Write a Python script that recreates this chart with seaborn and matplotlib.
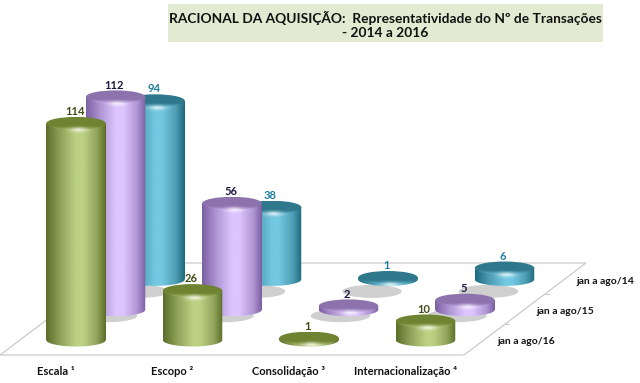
import numpy as np
import pandas as pd
import seaborn as sns
import matplotlib
matplotlib.use("Agg")
import matplotlib.pyplot as plt
from matplotlib.colors import LinearSegmentedColormap, to_rgb
from matplotlib.patches import Ellipse, Polygon, Rectangle

categories = ["Escala ¹", "Escopo ²", "Consolidação ³", "Internacionalização ⁴"]
series = ["jan a ago/16", "jan a ago/15", "jan a ago/14"]
values_16 = [114, 26, 1, 10]
values_15 = [112, 56, 2, 5]
values_14 = [94, 38, 1, 6]
title_text = "RACIONAL DA AQUISIÇÃO:  Representatividade do Nº de Transações\n- 2014 a 2016"

styles = {
    "jan a ago/16": dict(edge="#5c6f2a", mid="#bdd184", top="#6f8432", rim="#a5bb68", text="#3d4c14"),
    "jan a ago/15": dict(edge="#7b60a3", mid="#ddc5ff", top="#8d73ad", rim="#c2a8e6", text="#1d1440"),
    "jan a ago/14": dict(edge="#1f6a7e", mid="#74c8e1", top="#2f788c", rim="#5fb2cc", text="#1f7f9f"),
}

sns.set_theme(style="white")
plt.rcParams["font.family"] = ["Lato", "DejaVu Sans"]
TXT = "#111111"

W, H = 640, 383
BOTTOM_PX = 360
PX_X = 116.5          # pixels per category
PX_Y = 1.9            # pixels per value unit
X0_PX, Y0_PX = 76, 340
DX, DY = 39.5 / PX_X, 30.3 / PX_Y   # depth shift per row, data units


def x_of(px):
    return (px - X0_PX) / PX_X


def y_of(py):
    return (Y0_PX - py) / PX_Y


fig = plt.figure(figsize=(W / 100, H / 100), dpi=100, facecolor="white")
ax = fig.add_axes([0, (H - BOTTOM_PX) / H, 1, BOTTOM_PX / H])

BODY_W = 59.5 / PX_X
ELL_H = 13 / PX_Y
theta = np.linspace(0, np.pi, 60)

rows = []
for depth, (name, vals) in enumerate(zip(series, [values_16, values_15, values_14])):
    rows.append(pd.DataFrame({"category": categories, "serie": name, "value": vals,
                              "depth": depth, "x_pos": np.arange(4) + depth * DX}))
df = pd.concat(rows, ignore_index=True)

# floor
floor = [(0, 355), (464, 355), (586, 263), (122, 263)]
ax.add_patch(Polygon([(x_of(a), y_of(b)) for a, b in floor], closed=True,
                     facecolor="white", edgecolor="#cbcbcb", lw=0.9, zorder=1))
for px, py in [(505, 324), (545, 294)]:
    ax.plot([x_of(px), x_of(px + 4)], [y_of(py), y_of(py)], color="#cbcbcb", lw=0.8, zorder=1)

for depth in (2, 1, 0):
    name = series[depth]
    st = styles[name]
    sub = df[df.serie == name]
    z = 5 + (2 - depth) * 3
    n_before = len(ax.patches)
    sns.barplot(data=sub, x="x_pos", y="value", native_scale=True, width=BODY_W,
                color=st["edge"], saturation=1, errorbar=None, ax=ax, zorder=z)
    bars = ax.patches[n_before:]
    base = depth * DY
    half = np.array(to_rgb(st["edge"])) * .45 + np.array(to_rgb(st["mid"])) * .55
    body_cmap = LinearSegmentedColormap.from_list(
        "b", [(0, st["edge"]), (0.25, half), (0.5, st["mid"]), (0.62, st["mid"]),
              (0.85, half), (1, st["edge"])])
    top_cmap = LinearSegmentedColormap.from_list("t", [st["top"], st["top"], st["rim"]])
    for bar, (_, row) in zip(bars, sub.iterrows()):
        x0, w, v = bar.get_x(), bar.get_width(), bar.get_height()
        cx = x0 + w / 2
        x1 = x0 + w
        bar.set_y(base)
        bar.set_linewidth(0)
        top_y = base + v
        ex = (w / 2) * np.cos(theta)
        ey = (ELL_H / 2) * np.sin(theta)
        lower = np.column_stack([cx - ex, base - ey])
        upper = np.column_stack([cx + ex, top_y + ey])
        body = Polygon(np.vstack([lower, [[x1, top_y], [x0, top_y]]]), closed=True,
                       fc="none", ec="none")
        ax.add_patch(body)
        grad = np.linspace(0, 1, 200)[None, :]
        im = ax.imshow(grad, extent=[x0, x1, base - ELL_H, top_y], aspect="auto",
                       cmap=body_cmap, zorder=z + 0.1, interpolation="bilinear")
        im.set_clip_path(body)
        # top ellipse
        top = Ellipse((cx, top_y), w, ELL_H, fc="none", ec="none")
        ax.add_patch(top)
        vgrad = np.linspace(0, 1, 60)[:, None] ** 2
        im2 = ax.imshow(vgrad, extent=[x0, x1, top_y - ELL_H / 2, top_y + ELL_H / 2],
                        origin="upper", aspect="auto", cmap=top_cmap, zorder=z + 0.2,
                        interpolation="bilinear")
        im2.set_clip_path(top)
        # highlight under the rim of the top
        whole = Polygon(np.vstack([lower, upper]), closed=True, fc="none", ec="none")
        ax.add_patch(whole)
        gx, gy = np.meshgrid(np.linspace(-1, 1, 80), np.linspace(-1, 1, 40))
        glow = np.zeros((40, 80, 4))
        glow[..., :3] = 1
        glow[..., 3] = 0.7 * np.exp(-(gx ** 2 + gy ** 2) * 3.5)
        im3 = ax.imshow(glow, extent=[cx - w * 0.22, cx + w * 0.30,
                                      top_y - ELL_H * 0.85, top_y - ELL_H * 0.22],
                        aspect="auto", zorder=z + 0.3, interpolation="bilinear")
        im3.set_clip_path(whole)
        # floor shadow
        if depth > 0:
            ax.add_patch(Ellipse((cx - depth * 8 / PX_X, base - depth * 6 / PX_Y), w, ELL_H,
                                 fc="#cfcfcf", ec="none", zorder=2))
        ax.annotate(str(int(v)), (cx, top_y), xytext=(-1, 8.5), textcoords="offset points",
                    ha="center", va="center", fontsize=8, fontweight="bold",
                    color=st["text"], zorder=30)
    # depth-axis label
    ax.text(x_of(497 + depth * 39.5), y_of(342 - depth * 30.5), name, ha="left", va="center",
            fontsize=7.5, fontweight="bold", color=TXT, zorder=30)

ax.set_xlim(x_of(0), x_of(W))
ax.set_ylim(y_of(BOTTOM_PX), y_of(0))
sns.despine(ax=ax, left=True, bottom=True, top=True, right=True)
ax.set_xlabel("")
ax.set_ylabel("")
ax.set_yticks([])
ax.set_xticks(np.arange(4) - 20 / PX_X)
ax.set_xticklabels(categories, fontsize=8, fontweight="bold", color=TXT)
ax.tick_params(axis="x", length=0, pad=4.5)
leg = ax.get_legend()
if leg:
    leg.remove()

# title band
fig.patches.append(Rectangle((168 / W, 1 - 42 / H), 435 / W, 38 / H, transform=fig.transFigure,
                             facecolor="#e2ebd1", edgecolor="none", figure=fig))
fig.text(385.5 / W, 1 - 25 / H, title_text, ha="center", va="center", fontsize=9.9,
         fontweight="bold", color=TXT, linespacing=1.25)

fig.savefig("out.png", dpi=100)
